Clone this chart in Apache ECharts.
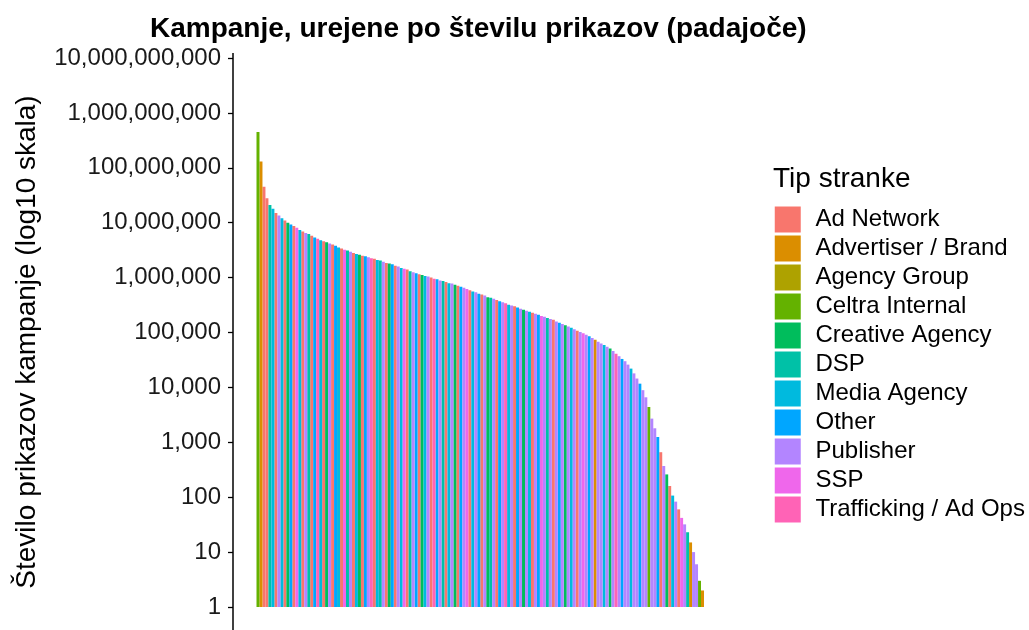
<!DOCTYPE html>
<html>
<head>
<meta charset="utf-8">
<script src="https://cdn.jsdelivr.net/npm/echarts@6/dist/echarts.min.js"></script>
<style>
  html, body { margin: 0; padding: 0; background: #fff; }
  #chart { width: 1029px; height: 630px; }
</style>
</head>
<body>
<div id="chart"></div>
<script>
// client types (legend) and ggplot hue colours
const clientTypes = ['Ad Network', 'Advertiser / Brand', 'Agency Group', 'Celtra Internal',
  'Creative Agency', 'DSP', 'Media Agency', 'Other', 'Publisher', 'SSP', 'Trafficking / Ad Ops'];
const typeColors = ['#F8766D', '#DB8E00', '#AEA200', '#64B200', '#00BD5C', '#00C1A7',
  '#00BADE', '#00A6FF', '#B385FF', '#EF67EB', '#FF63B6'];

// impressions per campaign, sorted descending
const impressions = [
  4.5e8, 1.3e8, 4.5e7, 2.8e7, 2.1e7, 1.8e7, 1.5e7, 1.35e7, 1.2e7, 1.1e7,
  1.0e7, 9.3e6, 8.7e6, 8.1e6, 7.4e6, 6.9e6, 6.5e6, 6.2e6, 5.8e6, 5.4e6,
  5.1e6, 4.8e6, 4.6e6, 4.4e6, 4.2e6, 4.0e6, 3.8e6, 3.55e6, 3.4e6, 3.2e6,
  3.1e6, 2.95e6, 2.8e6, 2.7e6, 2.6e6, 2.5e6, 2.45e6, 2.35e6, 2.25e6, 2.2e6,
  2.1e6, 2.05e6, 1.95e6, 1.85e6, 1.8e6, 1.75e6, 1.65e6, 1.6e6, 1.5e6, 1.45e6,
  1.4e6, 1.3e6, 1.25e6, 1.2e6, 1.15e6, 1.12e6, 1.07e6, 1.05e6, 1.0e6, 9.5e5,
  9.3e5, 8.9e5, 8.7e5, 8.3e5, 7.9e5, 7.8e5, 7.4e5, 7.1e5, 6.8e5, 6.5e5,
  6.2e5, 5.9e5, 5.6e5, 5.4e5, 5.1e5, 4.9e5, 4.7e5, 4.4e5, 4.3e5, 4.1e5,
  3.9e5, 3.7e5, 3.55e5, 3.4e5, 3.2e5, 3.1e5, 3.0e5, 2.85e5, 2.7e5, 2.6e5,
  2.5e5, 2.4e5, 2.3e5, 2.2e5, 2.1e5, 2.0e5, 1.93e5, 1.84e5, 1.76e5, 1.7e5,
  1.58e5, 1.5e5, 1.43e5, 1.35e5, 1.29e5, 1.22e5, 1.15e5, 1.08e5, 1.02e5, 9.7e4,
  9.1e4, 8.5e4, 7.9e4, 7.4e4, 6.8e4, 6.3e4, 5.9e4, 5.5e4, 5.1e4, 4.6e4,
  4.1e4, 3.7e4, 3.3e4, 3.0e4, 2.6e4, 2.2e4, 1.8e4, 1.45e4, 1.17e4, 8900,
  6600, 4400, 2700, 1800, 1250, 660, 370, 260, 160, 107,
  83, 60, 42, 32, 23, 15, 10, 6, 3, 2
];

// client type index of each campaign
const campaignType = [
  3, 1, 0, 0, 5, 6, 0, 8, 6, 0,
  4, 7, 0, 9, 6, 0, 8, 5, 0, 7,
  10, 6, 0, 4, 8, 0, 7, 6, 0, 9,
  5, 8, 0, 6, 4, 0, 7, 8, 10, 0,
  6, 5, 8, 0, 4, 7, 0, 8, 6, 9,
  0, 5, 8, 7, 0, 4, 6, 8, 0, 10,
  7, 8, 5, 0, 6, 8, 4, 0, 7, 8,
  9, 0, 6, 8, 7, 0, 8, 4, 5, 8,
  0, 7, 8, 10, 6, 8, 0, 7, 8, 4,
  8, 6, 0, 8, 7, 9, 8, 5, 8, 0,
  8, 7, 8, 4, 8, 6, 8, 0, 8, 9,
  8, 7, 8, 1, 8, 8, 6, 8, 4, 8,
  10, 8, 7, 8, 8, 6, 8, 8, 7, 8,
  8, 3, 8, 8, 7, 0, 8, 4, 0, 6,
  8, 0, 9, 8, 5, 1, 8, 8, 3, 1
];

const yTickValues = [1, 10, 100, 1e3, 1e4, 1e5, 1e6, 1e7, 1e8, 1e9, 1e10];
const yTickLabels = ['1', '10', '100', '1,000', '10,000', '100,000', '1,000,000',
  '10,000,000', '100,000,000', '1,000,000,000', '10,000,000,000'];

const chart = echarts.init(document.getElementById('chart'));
const font = 'Liberation Sans, Arial, Helvetica, sans-serif';

const seriesList = [];
clientTypes.forEach(function (name, t) {
  seriesList.push({
    name: name,
    type: 'bar',
    data: impressions.map(function (v, i) { return campaignType[i] === t ? v : '-'; }),
    barGap: '-100%',
    barCategoryGap: '0%',
    itemStyle: { color: typeColors[t], borderWidth: 0 }
  });
});

const option = {
  animation: false,
  backgroundColor: '#fff',
  textStyle: { fontFamily: font },
  title: [
    {
      text: 'Kampanje, urejene po številu prikazov (padajoče)',
      left: 150, top: 15, padding: 0,
      textStyle: { fontFamily: font, fontSize: 28, fontWeight: 'bold', color: '#000' }
    },
    {
      text: 'Tip stranke',
      left: 773, top: 165, padding: 0,
      textStyle: { fontFamily: font, fontSize: 28, fontWeight: 'normal', color: '#000' }
    }
  ],
  legend: {
    orient: 'vertical',
    left: 773.25, top: 205, padding: 0,
    itemWidth: 27.5, itemHeight: 27.5, itemGap: 0,
    icon: 'rect',
    selectedMode: false,
    itemStyle: { borderColor: '#fff', borderWidth: 1.5 },
    textStyle: { fontFamily: font, fontSize: 24, color: '#000', padding: [0, 0, 0, 9] },
    data: clientTypes
  },
  grid: { left: 256.5, right: 325, top: 58, bottom: 23 },
  xAxis: {
    type: 'category',
    data: impressions.map(function (v, i) { return i + 1; }),
    show: false
  },
  yAxis: {
    type: 'log',
    logBase: 10,
    min: 1, max: 1e10,
    offset: 23.5,
    axisLine: { show: false },
    axisTick: { show: true, length: 5, customValues: yTickValues, lineStyle: { color: '#000', width: 1.3 } },
    axisLabel: {
      margin: 12,
      customValues: yTickValues,
      fontFamily: font, fontSize: 24, color: '#1a1a1a',
      formatter: function (v) { return yTickLabels[yTickValues.indexOf(v)] || yTickLabels[Math.round(Math.log10(v))]; }
    },
    splitLine: { show: false }
  },
  graphic: [
    { type: 'line', shape: { x1: 233, y1: 53, x2: 233, y2: 630 }, style: { stroke: '#000', lineWidth: 1.5 } },
    {
      type: 'text', x: 27, y: 342, rotation: Math.PI / 2,
      style: {
        text: 'Število prikazov kampanje (log10 skala)',
        font: '28px Liberation Sans, Arial, sans-serif',
        fill: '#000', align: 'center', verticalAlign: 'middle'
      }
    }
  ],
  series: seriesList
};
chart.setOption(option);
</script>
</body>
</html>
